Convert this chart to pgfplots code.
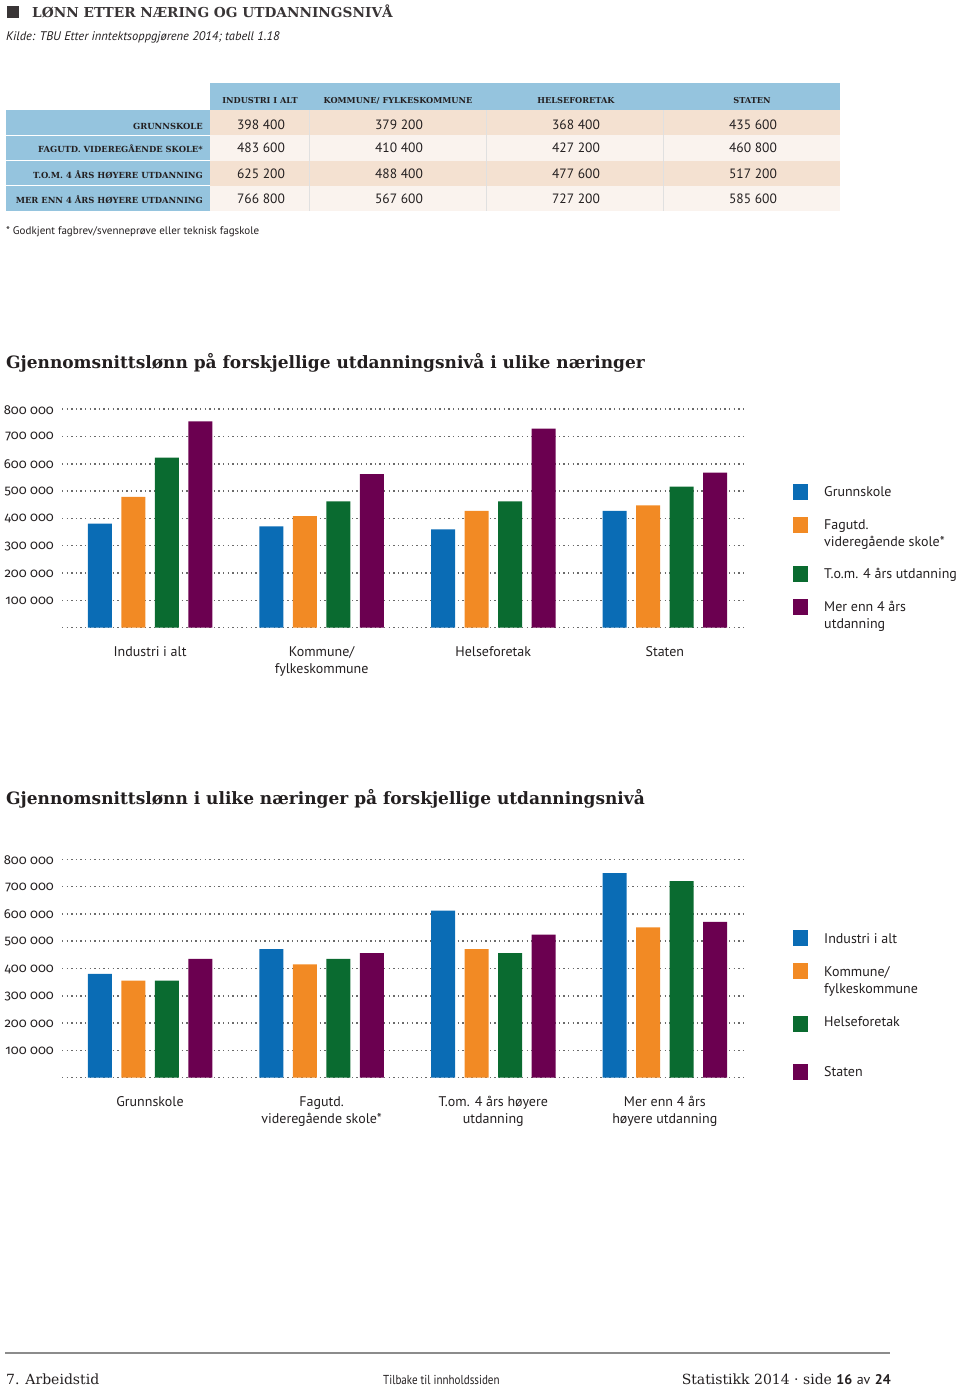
\documentclass[border=0pt]{standalone}
\usepackage{pgfplots}
\pgfplotsset{compat=1.18}
\usepackage{fontspec}
\setmainfont{PT Sans}
\newfontfamily\slab{DejaVu Serif}
\newfontfamily\tickfont{Fira Sans}[Numbers=OldStyle]
\definecolor{cblue}{HTML}{0A6CB5}
\definecolor{corange}{HTML}{F28A24}
\definecolor{cgreen}{HTML}{0A6B30}
\definecolor{cpurple}{HTML}{6B0050}
\definecolor{thblue}{HTML}{95C4DE}
\definecolor{peach}{HTML}{F4E1D1}
\definecolor{cream}{HTML}{FAF3EE}
\definecolor{txt}{HTML}{231F20}
\definecolor{dotgray}{HTML}{6A6A6A}
\pgfplotsset{
  mychart/.style={
    scale only axis, width=683pt, height=218.4pt,
    xmin=-0.513, xmax=3.467, ymin=0, ymax=800000,
    axis line style={draw=none}, major tick length=0pt,
    scaled y ticks=false,
    ytick={0,100000,200000,300000,400000,500000,600000,700000,800000},
    yticklabels={,100 000,200 000,300 000,400 000,500 000,600 000,700 000,800 000},
    ymajorgrids,
    grid style={dotgray, line width=1.5pt, dash pattern=on 1.4pt off 3.2pt},
    yticklabel style={font=\tickfont\fontsize{13}{13}\selectfont, anchor=east, inner sep=0pt, xshift=-8pt, yshift=-0.5pt, text=txt},
    xtick={0,1,2,3},
    xticklabel style={align=center, anchor=north, inner sep=0pt, yshift=-18.5pt, text=txt,
      font=\fontsize{14}{17}\selectfont},
    clip=false,
  },
  b1/.style={ybar, fill=cblue, draw=none, bar width=24pt, bar shift=-50.25pt},
  b2/.style={ybar, fill=corange, draw=none, bar width=24pt, bar shift=-16.75pt},
  b3/.style={ybar, fill=cgreen, draw=none, bar width=24pt, bar shift=16.75pt},
  b4/.style={ybar, fill=cpurple, draw=none, bar width=24pt, bar shift=50.25pt},
}
\begin{document}
\begin{tikzpicture}[x=1pt,y=1pt]
\useasboundingbox (0,0) rectangle (960,-1386);
% ---------- header ----------
\fill[txt!90] (7,-6.5) rectangle (19,-18.5);
\node[anchor=mid west, inner sep=0, text=txt!90] at (32,-15)
  {\slab\bfseries\fontsize{13.7}{14}\selectfont LØNN ETTER NÆRING OG UTDANNINGSNIVÅ};
\node[anchor=mid west, inner sep=0, text=txt] at (6,-38.5)
  {\itshape\fontsize{12.5}{14}\selectfont Kilde: TBU Etter inntektsoppgjørene 2014; tabell 1.18};
% ---------- table ----------
\fill[thblue] (210,-83.5) rectangle (840,-110.5);
\fill[thblue] (6,-110.5) rectangle (210,-210.5);
\fill[peach] (210,-110.5) rectangle (840,-135.5);
\fill[cream] (210,-135.5) rectangle (840,-160.5);
\fill[peach] (210,-160.5) rectangle (840,-185.5);
\fill[cream] (210,-185.5) rectangle (840,-210.5);
\foreach \yy in {135.5,160.5,185.5} \draw[white, line width=0.8pt] (6,-\yy) -- (210,-\yy);
\foreach \xx in {309.5,486.5,663.5} \draw[black!12, line width=0.8pt] (\xx,-110.5) -- (\xx,-210.5);
\begin{scope}[every node/.style={inner sep=0, text=txt, yshift=-2.5pt}]
\node[anchor=mid] at (260,-99) {\slab\bfseries\fontsize{8.2}{9}\selectfont INDUSTRI I ALT};
\node[anchor=mid] at (398,-99) {\slab\bfseries\fontsize{8.2}{9}\selectfont KOMMUNE/ FYLKESKOMMUNE};
\node[anchor=mid] at (576,-99) {\slab\bfseries\fontsize{8.2}{9}\selectfont HELSEFORETAK};
\node[anchor=mid] at (752,-99) {\slab\bfseries\fontsize{8.2}{9}\selectfont STATEN};
\node[anchor=mid east] at (203,-124) {\slab\bfseries\fontsize{8.4}{9}\selectfont GRUNNSKOLE};
\node[anchor=mid east] at (203,-148) {\slab\bfseries\fontsize{8.4}{9}\selectfont FAGUTD. VIDEREGÅENDE SKOLE*};
\node[anchor=mid east] at (203,-173) {\slab\bfseries\fontsize{8.4}{9}\selectfont T.O.M. 4 ÅRS HØYERE UTDANNING};
\node[anchor=mid east] at (203,-198) {\slab\bfseries\fontsize{8.4}{9}\selectfont MER ENN 4 ÅRS HØYERE UTDANNING};
\foreach \yy/\a/\b/\c/\d in {124/398 400/379 200/368 400/435 600, 148/483 600/410 400/427 200/460 800,
   173/625 200/488 400/477 600/517 200, 198/766 800/567 600/727 200/585 600}{
  \node[anchor=mid] at (261,-\yy) {\fontsize{13.5}{14}\selectfont \a};
  \node[anchor=mid] at (399,-\yy) {\fontsize{13.5}{14}\selectfont \b};
  \node[anchor=mid] at (576,-\yy) {\fontsize{13.5}{14}\selectfont \c};
  \node[anchor=mid] at (753,-\yy) {\fontsize{13.5}{14}\selectfont \d};
}
\node[anchor=mid west] at (6,-229) {\fontsize{11}{12}\selectfont * Godkjent fagbrev/svenneprøve eller teknisk fagskole};
% ---------- chart titles ----------
\node[anchor=mid west] at (6,-363) {\slab\bfseries\fontsize{17}{18}\selectfont Gjennomsnittslønn på forskjellige utdanningsnivå i ulike næringer};
\node[anchor=mid west] at (6,-799) {\slab\bfseries\fontsize{17}{18}\selectfont Gjennomsnittslønn i ulike næringer på forskjellige utdanningsnivå};
% ---------- legend 1 ----------
\node[anchor=mid west] at (824,-491) {\fontsize{14}{16}\selectfont Grunnskole};
\node[anchor=mid west] at (824,-524) {\fontsize{14}{16}\selectfont Fagutd.};
\node[anchor=mid west] at (824,-541) {\fontsize{14}{16}\selectfont videregående skole*};
\node[anchor=mid west] at (824,-573) {\fontsize{14}{16}\selectfont T.o.m. 4 års utdanning};
\node[anchor=mid west] at (824,-606) {\fontsize{14}{16}\selectfont Mer enn 4 års};
\node[anchor=mid west] at (824,-623) {\fontsize{14}{16}\selectfont utdanning};
% ---------- legend 2 ----------
\node[anchor=mid west] at (824,-938) {\fontsize{14}{16}\selectfont Industri i alt};
\node[anchor=mid west] at (824,-971) {\fontsize{14}{16}\selectfont Kommune/};
\node[anchor=mid west] at (824,-988) {\fontsize{14}{16}\selectfont fylkeskommune};
\node[anchor=mid west] at (824,-1021) {\fontsize{14}{16}\selectfont Helseforetak};
\node[anchor=mid west] at (824,-1071) {\fontsize{14}{16}\selectfont Staten};
% ---------- footer ----------
\node[anchor=mid west] at (6,-1379) {\slab\fontsize{14}{15}\selectfont 7. Arbeidstid};
\node[anchor=mid west] at (383,-1379) {\scalebox{0.85}[1]{\fontsize{13}{14}\selectfont Tilbake til innholdssiden}};
\node[anchor=mid east] at (891,-1379) {\slab\fontsize{14}{15}\selectfont Statistikk 2014 \textperiodcentered\ side {\fontspec{PT Sans}\bfseries 16} {\fontspec{PT Sans}av} {\fontspec{PT Sans}\bfseries 24}};
\end{scope}
\fill[cblue] (793,-484) rectangle (808,-500);
\fill[corange] (793,-517) rectangle (808,-533);
\fill[cgreen] (793,-566) rectangle (808,-582);
\fill[cpurple] (793,-599) rectangle (808,-615);
\fill[cblue] (793,-930) rectangle (808,-946);
\fill[corange] (793,-963) rectangle (808,-979);
\fill[cgreen] (793,-1016) rectangle (808,-1032);
\fill[cpurple] (793,-1064) rectangle (808,-1080);
\draw[black!45, line width=1.5pt] (5,-1353) -- (890,-1353);
% ---------- chart 1 ----------
\begin{axis}[mychart, at={(62pt,-627.6pt)}, anchor=south west,
  xticklabels={Industri i alt, Kommune/\\fylkeskommune, Helseforetak, Staten}]
\addplot[b1] coordinates {(0,380500) (1,371000) (2,360000) (3,428000)};
\addplot[b2] coordinates {(0,479000) (1,408000) (2,428000) (3,448000)};
\addplot[b3] coordinates {(0,623000) (1,462000) (2,462000) (3,516000)};
\addplot[b4] coordinates {(0,755000) (1,562000) (2,729000) (3,568000)};
\end{axis}
% ---------- chart 2 ----------
\begin{axis}[mychart, at={(62pt,-1077.7pt)}, anchor=south west,
  xticklabels={Grunnskole, Fagutd.\\videregående skole*, T.om. 4 års høyere\\utdanning, Mer enn 4 års\\høyere utdanning}]
\addplot[b1] coordinates {(0,380000) (1,471000) (2,612000) (3,749000)};
\addplot[b2] coordinates {(0,356000) (1,415000) (2,471000) (3,551000)};
\addplot[b3] coordinates {(0,356000) (1,435000) (2,456000) (3,720000)};
\addplot[b4] coordinates {(0,435000) (1,456000) (2,524000) (3,571000)};
\end{axis}
\end{tikzpicture}
\end{document}
